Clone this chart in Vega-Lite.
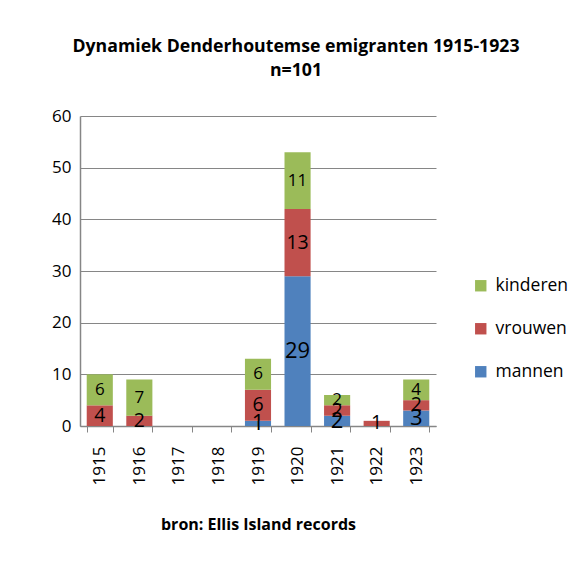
{
  "$schema": "https://vega.github.io/schema/vega-lite/v6.json",
  "width": 356,
  "height": 310,
  "autosize": "none",
  "padding": {"left": 80, "top": 116, "right": 151, "bottom": 139},
  "background": "white",
  "config": {"font": "Open Sans", "view": {"stroke": null}},
  "title": {
    "text": ["Dynamiek Denderhoutemse emigranten 1915-1923", "n=101"],
    "fontSize": 17.7,
    "fontWeight": "bold",
    "color": "black",
    "anchor": "middle",
    "dx": 38,
    "offset": 27,
    "lineHeight": 24
  },
  "data": {
    "values": [
      {"jaar": "1915", "groep": "mannen", "aantal": 0},
      {"jaar": "1915", "groep": "vrouwen", "aantal": 4},
      {"jaar": "1915", "groep": "kinderen", "aantal": 6},
      {"jaar": "1916", "groep": "mannen", "aantal": 0},
      {"jaar": "1916", "groep": "vrouwen", "aantal": 2},
      {"jaar": "1916", "groep": "kinderen", "aantal": 7},
      {"jaar": "1917", "groep": "mannen", "aantal": 0},
      {"jaar": "1917", "groep": "vrouwen", "aantal": 0},
      {"jaar": "1917", "groep": "kinderen", "aantal": 0},
      {"jaar": "1918", "groep": "mannen", "aantal": 0},
      {"jaar": "1918", "groep": "vrouwen", "aantal": 0},
      {"jaar": "1918", "groep": "kinderen", "aantal": 0},
      {"jaar": "1919", "groep": "mannen", "aantal": 1},
      {"jaar": "1919", "groep": "vrouwen", "aantal": 6},
      {"jaar": "1919", "groep": "kinderen", "aantal": 6},
      {"jaar": "1920", "groep": "mannen", "aantal": 29},
      {"jaar": "1920", "groep": "vrouwen", "aantal": 13},
      {"jaar": "1920", "groep": "kinderen", "aantal": 11},
      {"jaar": "1921", "groep": "mannen", "aantal": 2},
      {"jaar": "1921", "groep": "vrouwen", "aantal": 2},
      {"jaar": "1921", "groep": "kinderen", "aantal": 2},
      {"jaar": "1922", "groep": "mannen", "aantal": 0},
      {"jaar": "1922", "groep": "vrouwen", "aantal": 1},
      {"jaar": "1922", "groep": "kinderen", "aantal": 0},
      {"jaar": "1923", "groep": "mannen", "aantal": 3},
      {"jaar": "1923", "groep": "vrouwen", "aantal": 2},
      {"jaar": "1923", "groep": "kinderen", "aantal": 4}
    ]
  },
  "transform": [
    {"calculate": "indexof(['mannen','vrouwen','kinderen'], datum.groep)", "as": "rang"},
    {"stack": "aantal", "groupby": ["jaar"], "sort": [{"field": "rang", "order": "ascending"}], "as": ["y0", "y1"]},
    {"calculate": "(datum.y0 + datum.y1) / 2", "as": "ymid"}
  ],
  "encoding": {
    "x": {
      "field": "jaar",
      "type": "ordinal",
      "scale": {"paddingInner": 0.34, "paddingOuter": 0.17},
      "axis": {
        "title": "bron: Ellis Island records",
        "titleFontSize": 16,
        "titleFontWeight": "bold",
        "titleColor": "black",
        "titlePadding": 32,
        "labelAngle": -90,
        "labelFontSize": 17,
        "labelColor": "black",
        "labelPadding": 14,
        "tickBand": "extent",
        "tickSize": 6,
        "tickColor": "#868686",
        "domainColor": "#868686",
        "domainWidth": 1.5
      }
    }
  },
  "layer": [
    {
      "mark": {"type": "bar"},
      "encoding": {
        "y": {
          "field": "y0",
          "type": "quantitative",
          "scale": {"domain": [0, 60]},
          "axis": {
            "title": null,
            "values": [0, 10, 20, 30, 40, 50, 60],
            "labelFontSize": 17,
            "labelColor": "black",
            "labelPadding": 9,
            "ticks": false,
            "gridColor": "#868686",
            "gridWidth": 1,
            "domainColor": "#868686",
            "domainWidth": 1.5
          }
        },
        "y2": {"field": "y1"},
        "color": {
          "field": "groep",
          "type": "nominal",
          "scale": {"domain": ["kinderen", "vrouwen", "mannen"], "range": ["#9BBB59", "#C0504D", "#4F81BD"]},
          "legend": {
            "title": null,
            "orient": "none",
            "legendX": 392,
            "legendY": 161,
            "symbolType": "square",
            "symbolSize": 130,
            "symbolStrokeWidth": 0,
            "labelFontSize": 17.5,
            "labelColor": "black",
            "labelOffset": 6,
            "rowPadding": 24
          }
        }
      }
    },
    {
      "transform": [{"filter": "datum.aantal > 0"}],
      "mark": {"type": "text", "color": "black", "baseline": "middle", "align": "center"},
      "encoding": {
        "y": {"field": "ymid", "type": "quantitative"},
        "text": {"field": "aantal", "type": "quantitative"},
        "size": {
          "field": "groep",
          "type": "nominal",
          "scale": {"domain": ["mannen", "vrouwen", "kinderen"], "range": [22, 17, 17]},
          "legend": null
        }
      }
    }
  ]
}
